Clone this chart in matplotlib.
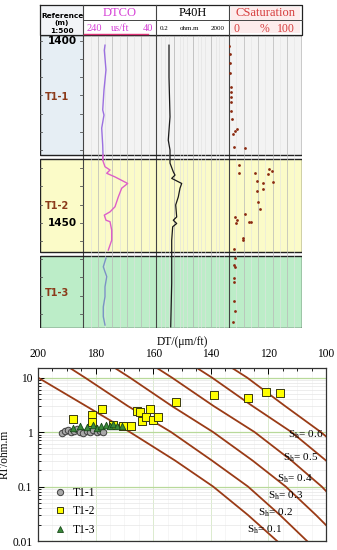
import matplotlib
matplotlib.use("Agg")
import matplotlib.pyplot as plt
from matplotlib.patches import Rectangle
from matplotlib.lines import Line2D
from matplotlib.ticker import FixedLocator, FixedFormatter, MultipleLocator, NullFormatter, LogLocator

W, H = 337, 550
SERIF = "Liberation Serif"
plt.rcParams["font.family"] = SERIF
plt.rcParams["mathtext.fontset"] = "stix"

# ---- well log data ----
zones = ["T1-1", "T1-2", "T1-3"]
zone_top = [1398.4, 1432.4, 1459.2]
zone_bot = [1431.5, 1458.0, 1479.0]

dtco_depth = [1401.2, 1402.6, 1408.0, 1413.5, 1419.0, 1420.4, 1424.0, 1428.7, 1431.4,
              1432.8, 1434.6, 1435.5, 1436.4, 1437.4, 1439.2, 1440.5, 1442.9, 1445.6,
              1447.0, 1447.9, 1449.3, 1449.7, 1452.0, 1454.8, 1457.5, 1459.7, 1462.1,
              1464.8, 1467.6, 1470.3, 1473.1, 1475.8, 1478.1]
dtco_value = [180.3, 182.2, 177.6, 183.1, 186.6, 183.1, 189.4, 186.6, 185.8,
              186.6, 180.3, 166.5, 175.6, 152.8, 117.9, 134.4, 143.7, 152.8,
              166.5, 182.2, 177.6, 166.5, 161.9, 161.9, 171.2, 177.6, 185.0,
              175.6, 180.3, 180.3, 185.0, 185.0, 180.3]

p40h_depth = [1401.2, 1410.0, 1420.9, 1427.3, 1430.0, 1433.6, 1436.0, 1436.9, 1437.8,
              1439.2, 1440.5, 1442.9, 1445.1, 1448.4, 1449.3, 1450.2, 1451.1, 1454.8,
              1459.3, 1466.6, 1478.6]
p40h_value = [1.03, 1.03, 1.17, 0.94, 1.17, 1.17, 1.77, 2.2, 1.45,
              5.12, 4.13, 3.33, 2.4, 2.72, 1.77, 2.72, 1.64, 1.45,
              1.45, 1.45, 1.28]

sat_depth = [1401.3, 1403.7, 1406.0, 1408.8, 1412.6, 1414.1, 1415.4, 1416.8, 1419.2, 1421.5,
             1424.3, 1424.8, 1425.6, 1429.3, 1429.5, 1434.1, 1436.3, 1436.4, 1435.3, 1435.8,
             1436.6, 1438.5, 1439.0, 1438.9, 1441.3, 1440.8, 1444.4, 1446.3, 1447.7, 1448.4,
             1449.3, 1450.2, 1449.9, 1449.8, 1454.1, 1454.8, 1457.2, 1459.8, 1461.6, 1462.1,
             1465.3, 1466.4, 1471.5, 1474.3, 1477.2]
sat_value = [0.4, 1.4, 1.4, 1.4, 2.3, 3.2, 2.8, 2.3, 2.8, 4.5,
             10.6, 8.3, 5.8, 7.3, 22, 13.3, 14.2, 35.8, 55.4, 59.2,
             54.1, 38.1, 47.2, 60.9, 38.1, 46.4, 39.3, 42.4, 22, 8.3,
             10.6, 9.5, 27.9, 30.3, 19.7, 18.8, 7.3, 8.3, 7.3, 8.3,
             7.3, 7.3, 7.3, 8.3, 5.8]

# ---- crossplot data ----
t11_dt = [191.5, 190.5, 189.5, 188.5, 187.5, 186.5, 185.5, 184.5, 183.0, 182.0, 181.0, 179.5, 178.5, 177.5]
t11_rt = [0.98, 1.05, 1.1, 1.0, 1.05, 1.12, 1.0, 0.98, 1.05, 1.0, 1.1, 1.0, 1.05, 1.0]
t12_dt = [188.0, 181.1, 177.9, 181.2, 174.0, 170.5, 167.8, 165.7, 164.6, 164.0,
          162.6, 161.1, 160.2, 158.4, 152.2, 138.9, 127.0, 120.9, 116.0]
t12_rt = [1.74, 2.09, 2.66, 1.5, 1.37, 1.27, 1.27, 2.4, 2.3, 1.57,
          1.9, 2.7, 1.64, 1.9, 3.57, 4.8, 4.2, 5.45, 5.2]
t13_dt = [188.0, 185.5, 183.0, 181.0, 179.5, 178.0, 176.5, 175.0, 174.0, 172.5, 171.0]
t13_rt = [1.2, 1.3, 1.25, 1.35, 1.2, 1.3, 1.35, 1.3, 1.4, 1.3, 1.3]

sh_levels = [0.1, 0.2, 0.3, 0.4, 0.5, 0.6]
sh_rt = [15, 10, 3, 1, 0.3, 0.1, 0.03, 0.01]
sh_dt = [
    [205.6, 200.0, 183.3, 168.1, 152.4, 139.2, 127.1, 117.0],
    [188.9, 183.7, 168.8, 153.8, 139.6, 127.1, 116.0, 106.6],
    [173.3, 168.1, 153.5, 139.2, 125.5, 114.0, 103.5, 94.5],
    [158.7, 153.5, 139.0, 124.8, 112.0, 101.5, 92.0],
    [144.8, 139.6, 125.5, 112.0, 100.0, 90.0],
    [132.6, 127.4, 114.2, 101.8, 90.0],
]


def rect(x0, y0, x1, y1):
    # pixel box -> figure fraction
    return [x0 / W, 1 - y1 / H, (x1 - x0) / W, (y1 - y0) / H]


fig = plt.figure(figsize=(W / 100, H / 100), dpi=100)

# ---------------- well log ----------------
LX0, LX1 = 40, 301.7
COLS = [40, 83.3, 156, 229, 301.7]
HY0, HY1, HY2 = 5, 20, 35
BY1 = 328.3
dmin, dmax = 1398.4, 1479.0
zone_fill = ["#f3f3f3", "#fbfbc8", "#bcedc8"]
depth_fill = ["#e6eef4", "#fbfbc8", "#bcedc8"]
zone_label_depth = [1415.4, 1445.4, 1469.2]
label_col = "#8b3a1a"

bg = fig.add_axes(rect(LX0, HY2, LX1, BY1))
bg.set_xlim(LX0, LX1)
bg.set_ylim(dmax, dmin)
bg.axis("off")
for i, z in enumerate(zones):
    top = zone_top[i]
    bot = zone_bot[i]
    bg.add_patch(Rectangle((COLS[1], top), LX1 - COLS[1], bot - top, fc=zone_fill[i], ec="none"))
    bg.add_patch(Rectangle((LX0, top), COLS[1] - LX0, bot - top, fc=depth_fill[i], ec="none"))
    bg.add_patch(Rectangle((LX0, top), LX1 - LX0, bot - top, fc="none", ec="#222222", lw=1.0, zorder=5))
    bg.text(45, zone_label_depth[i], z, fontsize=7, fontweight="bold",
            family="DejaVu Sans", color=label_col, va="center", ha="left", zorder=6)
for d in [1400, 1450]:
    bg.text(62, d, str(d), fontsize=7.5, fontweight="bold", family="DejaVu Sans",
            ha="center", va="center", zorder=6)
for d in range(1400, 1480, 5):
    bg.plot([COLS[1] - 3, COLS[1]], [d, d], color="#555555", lw=0.6, zorder=6)
    bg.plot([LX0, LX0 + 2], [d, d], color="#555555", lw=0.6, zorder=6)
for x in COLS[1:4]:
    bg.plot([x, x], [dmin, dmax], color="#444444", lw=0.8, zorder=4)

# DTCO track
ax_dt = fig.add_axes(rect(COLS[1], HY2, COLS[2], BY1))
ax_dt.set_facecolor("none")
ax_dt.set_xlim(240, 40)
ax_dt.set_ylim(dmax, dmin)
for x in [200, 160, 120, 80]:
    ax_dt.axvline(x, color="#b8b8b8", lw=0.5, zorder=1)
for x in [220, 180, 140, 100, 60]:
    ax_dt.axvline(x, color="#e0e0e0", lw=0.4, zorder=1)
dt_cols = ["#9b70e0", "#dd5fc8", "#7a93c4"]
for i in range(3):
    idx = [k for k, d in enumerate(dtco_depth) if zone_top[i] - 1.5 <= d <= zone_bot[i] + 1.5]
    ax_dt.plot([dtco_value[k] for k in idx], [dtco_depth[k] for k in idx],
               color=dt_cols[i], lw=1.0, zorder=3)
ax_dt.axis("off")

# P40H track
ax_rt = fig.add_axes(rect(COLS[2], HY2, COLS[3], BY1))
ax_rt.set_facecolor("none")
ax_rt.set_xscale("log")
ax_rt.set_xlim(0.2, 2000)
ax_rt.set_ylim(dmax, dmin)
for x in [2, 20, 200]:
    ax_rt.axvline(x, color="#b0b0b0", lw=0.5, zorder=1)
for dec in [0.2, 2, 20, 200]:
    for m in [2, 3, 5]:
        ax_rt.axvline(dec * m, color="#e0e0e0", lw=0.4, zorder=1)
ax_rt.plot(p40h_value, p40h_depth, color="#1a1a1a", lw=0.9, zorder=3)
ax_rt.axis("off")

# CSaturation track
ax_s = fig.add_axes(rect(COLS[3], HY2, COLS[4], BY1))
ax_s.set_facecolor("none")
ax_s.set_xlim(0, 100)
ax_s.set_ylim(dmax, dmin)
for x in [20, 40, 60, 80]:
    ax_s.axvline(x, color="#b8b8b8", lw=0.5, zorder=1)
for x in [10, 30, 50, 70, 90]:
    ax_s.axvline(x, color="#e4e4e4", lw=0.4, zorder=1)
ax_s.scatter(sat_value, sat_depth, s=4, color="#8b2a10", zorder=3, linewidths=0)
ax_s.axis("off")

# header (pixel space)
hd = fig.add_axes([0, 0, 1, 1])
hd.set_xlim(0, W)
hd.set_ylim(H, 0)
hd.axis("off")
hd.set_facecolor("none")
hd.add_patch(Rectangle((LX0, HY0), COLS[1] - LX0, HY2 - HY0, fc="#f2f4f7", ec="none"))
hd.add_patch(Rectangle((COLS[3] + 2, HY0 + 2), COLS[4] - COLS[3] - 4, HY2 - HY0 - 4, fc="#fdecec", ec="none"))
hd.plot([LX0, LX1, LX1, LX0, LX0], [HY0, HY0, HY2, HY2, HY0], color="#222222", lw=0.9)
hd.plot([COLS[1], LX1], [HY1, HY1], color="#444444", lw=0.7)
for x in COLS[1:4]:
    hd.plot([x, x], [HY0, HY2], color="#444444", lw=0.8)
hd.plot([COLS[1] + 1, COLS[2] - 8], [HY2 - 1, HY2 - 1], color="#dd3377", lw=1.0)
hd.text(62, 16.5, "Reference", fontsize=5.3, fontweight="bold", family="DejaVu Sans", ha="center", va="center")
hd.text(62, 23.5, "(m)", fontsize=5.3, fontweight="bold", family="DejaVu Sans", ha="center", va="center")
hd.text(62, 31, "1:500", fontsize=5.3, fontweight="bold", family="DejaVu Sans", ha="center", va="center")
hd.text(120, 12.5, "DTCO", fontsize=9, color="#d640d6", ha="center", va="center")
hd.text(192.5, 12.5, "P40H", fontsize=9, color="black", ha="center", va="center")
hd.text(265.5, 12.5, "CSaturation", fontsize=9, color="#d63c3c", ha="center", va="center")
hd.text(94, 28.5, "240", fontsize=7.5, color="#d640d6", ha="center", va="center")
hd.text(120, 28.5, "us/ft", fontsize=7.5, color="#d640d6", ha="center", va="center")
hd.text(148, 28.5, "40", fontsize=7.5, color="#d640d6", ha="center", va="center")
hd.text(164, 28.5, "0.2", fontsize=5, color="black", ha="center", va="center")
hd.text(190, 28.5, "ohm.m", fontsize=5, color="black", ha="center", va="center")
hd.text(218, 28.5, "2000", fontsize=5, color="black", ha="center", va="center")
hd.text(237, 28.5, "0", fontsize=8.5, color="#d63c3c", ha="center", va="center")
hd.text(265, 28.5, "%", fontsize=8.5, color="#d63c3c", ha="center", va="center")
hd.text(286, 28.5, "100", fontsize=8.5, color="#d63c3c", ha="center", va="center")

# ---------------- crossplot ----------------
ax = fig.add_axes(rect(38, 368, 326, 541))
ax.set_xlim(200, 100)
ax.set_yscale("log")
ax.set_ylim(0.01, 15)

ax.yaxis.set_minor_locator(LogLocator(base=10, subs=range(2, 10)))
ax.yaxis.set_minor_formatter(NullFormatter())
ax.yaxis.set_major_locator(FixedLocator([0.01, 0.1, 1, 10]))
ax.yaxis.set_major_formatter(FixedFormatter(["0.01", "0.1", "1", "10"]))
ax.xaxis.set_major_locator(MultipleLocator(20))
ax.xaxis.set_minor_locator(MultipleLocator(5))
ax.xaxis.tick_top()
ax.xaxis.set_label_position("top")
ax.tick_params(which="both", direction="in", labelsize=8.3, top=True, bottom=False, right=False)
ax.tick_params(which="major", length=4, width=0.7)
ax.tick_params(which="minor", length=2.5, width=0.6)
ax.tick_params(axis="x", pad=6)
ax.tick_params(axis="y", pad=4)
ax.set_xlabel("DT/(μm/ft)", fontsize=8.3, labelpad=2)
ax.set_ylabel("RT/ohm.m", fontsize=8.3)
ax.yaxis.set_label_coords(-0.095, 0.5)
for sp in ax.spines.values():
    sp.set_linewidth(0.9)
    sp.set_color("#333333")

ax.grid(which="minor", axis="y", color="#e6e6e6", lw=0.5)
ax.grid(which="major", axis="y", color="#b8d99a", lw=0.9)
ax.grid(which="major", axis="x", color="#d6e8c6", lw=0.6)
ax.grid(which="minor", axis="x", color="#f0f0f0", lw=0.4)
ax.set_axisbelow(True)

for lvl, dts in zip(sh_levels, sh_dt):
    ax.plot(dts, sh_rt[:len(dts)], color="#9a3b16", lw=1.3, zorder=2)

label_pos = [(127.4, 0.0162), (123.6, 0.0332), (120.1, 0.0683), (117.0, 0.139), (114.9, 0.338), (113.2, 0.897)]
for lvl, (x, y) in zip(sh_levels, label_pos):
    ax.text(x, y, "S$_\\mathrm{h}$= %.1f" % lvl, fontsize=8, ha="left", va="center", zorder=3)

ax.scatter(t11_dt, t11_rt, s=22, marker="o", facecolor="#a8a8a8", edgecolor="#404040", linewidths=0.7, zorder=4)
ax.scatter(t12_dt, t12_rt, s=26, marker="s", facecolor="#ffff00", edgecolor="#3a3a10", linewidths=0.7, zorder=4)
ax.scatter(t13_dt, t13_rt, s=22, marker="^", facecolor="#3a8a3a", edgecolor="#1a4a1a", linewidths=0.6, zorder=5)

handles = [
    Line2D([], [], ls="", marker="o", ms=4.5, mfc="#a8a8a8", mec="#404040", mew=0.7),
    Line2D([], [], ls="", marker="s", ms=4.5, mfc="#ffff00", mec="#3a3a10", mew=0.7),
    Line2D([], [], ls="", marker="^", ms=4.5, mfc="#3a8a3a", mec="#1a4a1a", mew=0.6),
]
ax.legend(handles, zones, loc="lower left", bbox_to_anchor=(0.03, -0.02), frameon=False,
          fontsize=8.3, handlelength=1.0, handletextpad=0.6, labelspacing=0.6, borderaxespad=0.3)

fig.savefig("out.png", dpi=100)
